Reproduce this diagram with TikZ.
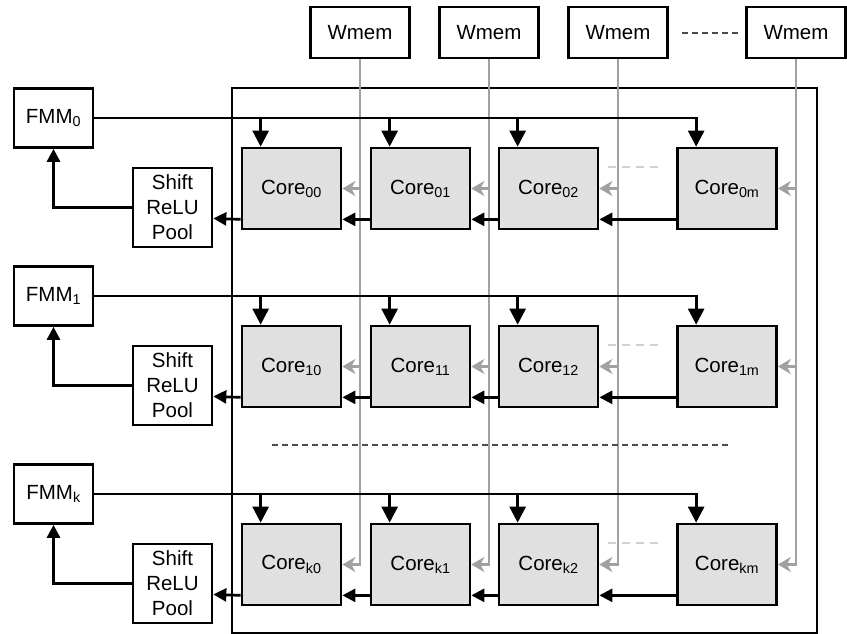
\documentclass[tikz,border=0pt]{standalone}
\usepackage{fontspec}
\setmainfont{Liberation Sans}
\usetikzlibrary{arrows.meta}

\begin{document}
\begin{tikzpicture}[x=1pt,y=-1pt]
	\definecolor{corefill}{gray}{0.88}
	\definecolor{wcolor}{gray}{0.63}
	\definecolor{dcolor}{gray}{0.30}
	\definecolor{lcolor}{gray}{0.82}
	\tikzset{
		blk/.style={draw, line width=2.7pt, inner sep=0pt, align=center, font=\fontsize{20.5}{25}\selectfont},
		wmem/.style={blk, minimum width=99pt, minimum height=51pt},
		fmm/.style={blk, minimum width=79pt, minimum height=59pt},
		spr/.style={blk, minimum width=79pt, minimum height=79pt},
		core/.style={blk, fill=corefill, minimum width=99pt, minimum height=81pt},
		feed/.style={line width=2.7pt, -{Triangle[length=13pt,width=13pt]}},
		drop/.style={feed, -{Triangle[length=16pt,width=16pt]}},
		wfeed/.style={wcolor, line width=2.3pt, -{Stealth[length=13pt,width=15pt,inset=4pt]}},
		gap/.style={dcolor, line width=1.2pt, dash pattern=on 6pt off 4pt},
		lgap/.style={lcolor, line width=1.2pt, dash pattern=on 8pt off 6pt}
	}
	\useasboundingbox (0,0) rectangle (847,634);
	%% Frame ---------
	\draw[line width=2.7pt] (232,88) rectangle (817,633);
	%% Vertices ------
	\node[wmem] (w0) at (360,32.5) {Wmem};
	\node[wmem] (w1) at (489,32.5) {Wmem};
	\node[wmem] (w2) at (618,32.5) {Wmem};
	\node[wmem] (wm) at (796,32.5) {Wmem};
	\node[fmm] (f0) at (53.5,118) {FMM\textsubscript{0}};
	\node[fmm] (f1) at (53.5,296) {FMM\textsubscript{1}};
	\node[fmm] (fk) at (53.5,494) {FMM\textsubscript{k}};
	\node[spr] (s0) at (172.5,207.5) {Shift\\ReLU\\Pool};
	\node[spr] (s1) at (172.5,385.5) {Shift\\ReLU\\Pool};
	\node[spr] (sk) at (172.5,583.5) {Shift\\ReLU\\Pool};
	\node[core] (c00) at (291.5,188.5) {Core\textsubscript{00}};
	\node[core] (c01) at (420.5,188.5) {Core\textsubscript{01}};
	\node[core] (c02) at (548.5,188.5) {Core\textsubscript{02}};
	\node[core] (c0m) at (727,188.5) {Core\textsubscript{0m}};
	\node[core] (c10) at (291.5,366.5) {Core\textsubscript{10}};
	\node[core] (c11) at (420.5,366.5) {Core\textsubscript{11}};
	\node[core] (c12) at (548.5,366.5) {Core\textsubscript{12}};
	\node[core] (c1m) at (727,366.5) {Core\textsubscript{1m}};
	\node[core] (ck0) at (291.5,564.5) {Core\textsubscript{k0}};
	\node[core] (ck1) at (420.5,564.5) {Core\textsubscript{k1}};
	\node[core] (ck2) at (548.5,564.5) {Core\textsubscript{k2}};
	\node[core] (ckm) at (727,564.5) {Core\textsubscript{km}};
	%% Weight edges ---
	\draw[wfeed] (w0.south) |- (ck0.east);
	\draw[wfeed] (w1.south) |- (ck1.east);
	\draw[wfeed] (w2.south) |- (ck2.east);
	\draw[wfeed] (wm.south) |- (ckm.east);
	\draw[wfeed] (c00.east -| w0.south) -- (c00.east);
	\draw[wfeed] (c01.east -| w1.south) -- (c01.east);
	\draw[wfeed] (c02.east -| w2.south) -- (c02.east);
	\draw[wfeed] (c0m.east -| wm.south) -- (c0m.east);
	\draw[wfeed] (c10.east -| w0.south) -- (c10.east);
	\draw[wfeed] (c11.east -| w1.south) -- (c11.east);
	\draw[wfeed] (c12.east -| w2.south) -- (c12.east);
	\draw[wfeed] (c1m.east -| wm.south) -- (c1m.east);
	%% Feature edges --
	\draw[drop] (f0.east) -| ([xshift=20pt]c00.north west);
	\draw[drop] (f0.east) -| ([xshift=20pt]c01.north west);
	\draw[drop] (f0.east) -| ([xshift=20pt]c02.north west);
	\draw[drop] (f0.east) -| ([xshift=20pt]c0m.north west);
	\draw[drop] (f1.east) -| ([xshift=20pt]c10.north west);
	\draw[drop] (f1.east) -| ([xshift=20pt]c11.north west);
	\draw[drop] (f1.east) -| ([xshift=20pt]c12.north west);
	\draw[drop] (f1.east) -| ([xshift=20pt]c1m.north west);
	\draw[drop] (fk.east) -| ([xshift=20pt]ck0.north west);
	\draw[drop] (fk.east) -| ([xshift=20pt]ck1.north west);
	\draw[drop] (fk.east) -| ([xshift=20pt]ck2.north west);
	\draw[drop] (fk.east) -| ([xshift=20pt]ckm.north west);
	%% Partial sums ---
	\draw[feed] ([yshift=11pt]c0m.south west) -- ([yshift=11pt]c02.south east);
	\draw[feed] ([yshift=11pt]c02.south west) -- ([yshift=11pt]c01.south east);
	\draw[feed] ([yshift=11pt]c01.south west) -- ([yshift=11pt]c00.south east);
	\draw[feed] ([yshift=11pt]c00.south west) -- (s0.-15);
	\draw[feed] ([yshift=11pt]c1m.south west) -- ([yshift=11pt]c12.south east);
	\draw[feed] ([yshift=11pt]c12.south west) -- ([yshift=11pt]c11.south east);
	\draw[feed] ([yshift=11pt]c11.south west) -- ([yshift=11pt]c10.south east);
	\draw[feed] ([yshift=11pt]c10.south west) -- (s1.-15);
	\draw[feed] ([yshift=11pt]ckm.south west) -- ([yshift=11pt]ck2.south east);
	\draw[feed] ([yshift=11pt]ck2.south west) -- ([yshift=11pt]ck1.south east);
	\draw[feed] ([yshift=11pt]ck1.south west) -- ([yshift=11pt]ck0.south east);
	\draw[feed] ([yshift=11pt]ck0.south west) -- (sk.-15);
	\draw[feed] (s0.west) -| (f0.south);
	\draw[feed] (s1.west) -| (f1.south);
	\draw[feed] (sk.west) -| (fk.south);
	%% Gaps ----------
	\draw[gap] (682,33) -- (738,33);
	\draw[gap] (272,445) -- (728,445);
	\draw[lgap] (608,167) -- (663,167);
	\draw[lgap] (608,345) -- (663,345);
	\draw[lgap] (608,543) -- (663,543);
\end{tikzpicture}
\end{document}
